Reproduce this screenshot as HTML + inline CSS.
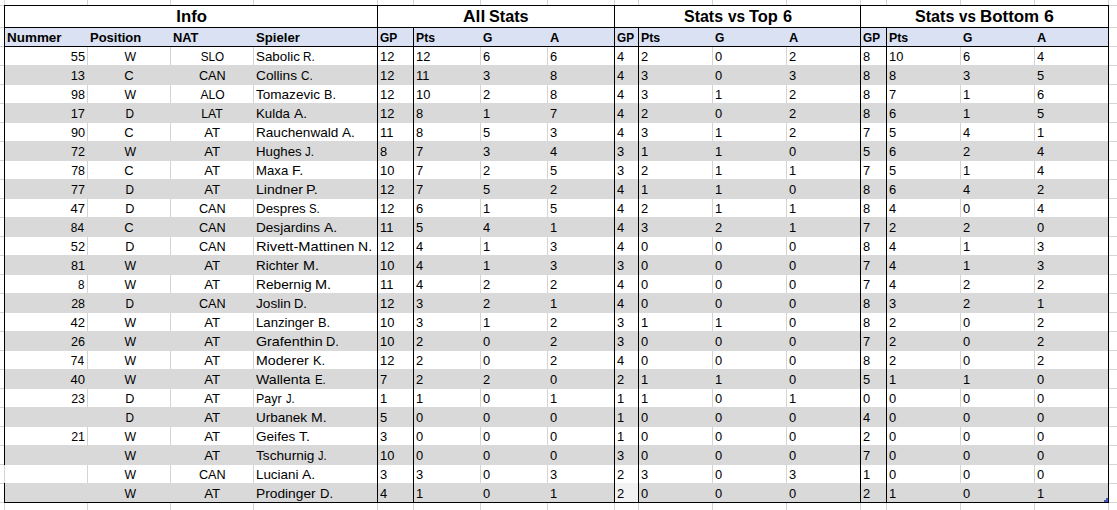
<!DOCTYPE html><html><head><meta charset="utf-8"><title>Stats</title><style>
html,body{margin:0;padding:0;background:#fff;}
body{width:1117px;height:510px;position:relative;overflow:hidden;font-family:"Liberation Sans",sans-serif;color:#000;}
.l{position:absolute;background:#000;}
.g{position:absolute;background:#d4d4d4;}
.r{position:absolute;left:5px;width:1103px;height:20px;background:#d9d9d9;}
.t{position:absolute;white-space:nowrap;height:19px;line-height:19px;font-size:13.5px;}
.h{position:absolute;white-space:nowrap;height:19px;line-height:19px;font-size:13.5px;font-weight:bold;}
.T{position:absolute;white-space:nowrap;height:22px;line-height:22px;font-size:16px;font-weight:bold;text-align:center;}
.t span,.h span,.T span{display:inline-block;}
</style></head><body>
<div class="g" style="left:4px;top:0;width:1px;height:5px"></div>
<div class="g" style="left:4px;top:503px;width:1px;height:7px"></div>
<div class="g" style="left:87px;top:0;width:1px;height:5px"></div>
<div class="g" style="left:87px;top:503px;width:1px;height:7px"></div>
<div class="g" style="left:170px;top:0;width:1px;height:5px"></div>
<div class="g" style="left:170px;top:503px;width:1px;height:7px"></div>
<div class="g" style="left:253px;top:0;width:1px;height:5px"></div>
<div class="g" style="left:253px;top:503px;width:1px;height:7px"></div>
<div class="g" style="left:377px;top:0;width:1px;height:5px"></div>
<div class="g" style="left:377px;top:503px;width:1px;height:7px"></div>
<div class="g" style="left:413px;top:0;width:1px;height:5px"></div>
<div class="g" style="left:413px;top:503px;width:1px;height:7px"></div>
<div class="g" style="left:480px;top:0;width:1px;height:5px"></div>
<div class="g" style="left:480px;top:503px;width:1px;height:7px"></div>
<div class="g" style="left:547px;top:0;width:1px;height:5px"></div>
<div class="g" style="left:547px;top:503px;width:1px;height:7px"></div>
<div class="g" style="left:614px;top:0;width:1px;height:5px"></div>
<div class="g" style="left:614px;top:503px;width:1px;height:7px"></div>
<div class="g" style="left:638px;top:0;width:1px;height:5px"></div>
<div class="g" style="left:638px;top:503px;width:1px;height:7px"></div>
<div class="g" style="left:712px;top:0;width:1px;height:5px"></div>
<div class="g" style="left:712px;top:503px;width:1px;height:7px"></div>
<div class="g" style="left:786px;top:0;width:1px;height:5px"></div>
<div class="g" style="left:786px;top:503px;width:1px;height:7px"></div>
<div class="g" style="left:860px;top:0;width:1px;height:5px"></div>
<div class="g" style="left:860px;top:503px;width:1px;height:7px"></div>
<div class="g" style="left:886px;top:0;width:1px;height:5px"></div>
<div class="g" style="left:886px;top:503px;width:1px;height:7px"></div>
<div class="g" style="left:960px;top:0;width:1px;height:5px"></div>
<div class="g" style="left:960px;top:503px;width:1px;height:7px"></div>
<div class="g" style="left:1034px;top:0;width:1px;height:5px"></div>
<div class="g" style="left:1034px;top:503px;width:1px;height:7px"></div>
<div class="g" style="left:1108px;top:0;width:1px;height:5px"></div>
<div class="g" style="left:1108px;top:503px;width:1px;height:7px"></div>
<div class="g" style="left:0;top:5px;width:4px;height:1px"></div>
<div class="g" style="left:1109px;top:5px;width:8px;height:1px"></div>
<div class="g" style="left:0;top:27px;width:4px;height:1px"></div>
<div class="g" style="left:1109px;top:27px;width:8px;height:1px"></div>
<div class="g" style="left:0;top:46px;width:4px;height:1px"></div>
<div class="g" style="left:1109px;top:46px;width:8px;height:1px"></div>
<div class="g" style="left:0;top:65px;width:4px;height:1px"></div>
<div class="g" style="left:1109px;top:65px;width:8px;height:1px"></div>
<div class="g" style="left:0;top:84px;width:4px;height:1px"></div>
<div class="g" style="left:1109px;top:84px;width:8px;height:1px"></div>
<div class="g" style="left:0;top:103px;width:4px;height:1px"></div>
<div class="g" style="left:1109px;top:103px;width:8px;height:1px"></div>
<div class="g" style="left:0;top:122px;width:4px;height:1px"></div>
<div class="g" style="left:1109px;top:122px;width:8px;height:1px"></div>
<div class="g" style="left:0;top:141px;width:4px;height:1px"></div>
<div class="g" style="left:1109px;top:141px;width:8px;height:1px"></div>
<div class="g" style="left:0;top:160px;width:4px;height:1px"></div>
<div class="g" style="left:1109px;top:160px;width:8px;height:1px"></div>
<div class="g" style="left:0;top:179px;width:4px;height:1px"></div>
<div class="g" style="left:1109px;top:179px;width:8px;height:1px"></div>
<div class="g" style="left:0;top:198px;width:4px;height:1px"></div>
<div class="g" style="left:1109px;top:198px;width:8px;height:1px"></div>
<div class="g" style="left:0;top:217px;width:4px;height:1px"></div>
<div class="g" style="left:1109px;top:217px;width:8px;height:1px"></div>
<div class="g" style="left:0;top:236px;width:4px;height:1px"></div>
<div class="g" style="left:1109px;top:236px;width:8px;height:1px"></div>
<div class="g" style="left:0;top:255px;width:4px;height:1px"></div>
<div class="g" style="left:1109px;top:255px;width:8px;height:1px"></div>
<div class="g" style="left:0;top:274px;width:4px;height:1px"></div>
<div class="g" style="left:1109px;top:274px;width:8px;height:1px"></div>
<div class="g" style="left:0;top:293px;width:4px;height:1px"></div>
<div class="g" style="left:1109px;top:293px;width:8px;height:1px"></div>
<div class="g" style="left:0;top:312px;width:4px;height:1px"></div>
<div class="g" style="left:1109px;top:312px;width:8px;height:1px"></div>
<div class="g" style="left:0;top:331px;width:4px;height:1px"></div>
<div class="g" style="left:1109px;top:331px;width:8px;height:1px"></div>
<div class="g" style="left:0;top:350px;width:4px;height:1px"></div>
<div class="g" style="left:1109px;top:350px;width:8px;height:1px"></div>
<div class="g" style="left:0;top:369px;width:4px;height:1px"></div>
<div class="g" style="left:1109px;top:369px;width:8px;height:1px"></div>
<div class="g" style="left:0;top:388px;width:4px;height:1px"></div>
<div class="g" style="left:1109px;top:388px;width:8px;height:1px"></div>
<div class="g" style="left:0;top:407px;width:4px;height:1px"></div>
<div class="g" style="left:1109px;top:407px;width:8px;height:1px"></div>
<div class="g" style="left:0;top:426px;width:4px;height:1px"></div>
<div class="g" style="left:1109px;top:426px;width:8px;height:1px"></div>
<div class="g" style="left:0;top:445px;width:4px;height:1px"></div>
<div class="g" style="left:1109px;top:445px;width:8px;height:1px"></div>
<div class="g" style="left:0;top:464px;width:4px;height:1px"></div>
<div class="g" style="left:1109px;top:464px;width:8px;height:1px"></div>
<div class="g" style="left:0;top:483px;width:4px;height:1px"></div>
<div class="g" style="left:1109px;top:483px;width:8px;height:1px"></div>
<div class="g" style="left:0;top:502px;width:4px;height:1px"></div>
<div class="g" style="left:1109px;top:502px;width:8px;height:1px"></div>
<div style="position:absolute;left:5px;top:28px;width:1103px;height:18px;background:#d9e1f2"></div>
<div class="g" style="left:87px;top:47px;width:1px;height:18px"></div>
<div class="g" style="left:170px;top:47px;width:1px;height:18px"></div>
<div class="g" style="left:253px;top:47px;width:1px;height:18px"></div>
<div class="g" style="left:480px;top:47px;width:1px;height:18px"></div>
<div class="g" style="left:547px;top:47px;width:1px;height:18px"></div>
<div class="g" style="left:712px;top:47px;width:1px;height:18px"></div>
<div class="g" style="left:786px;top:47px;width:1px;height:18px"></div>
<div class="g" style="left:960px;top:47px;width:1px;height:18px"></div>
<div class="g" style="left:1034px;top:47px;width:1px;height:18px"></div>
<div class="r" style="top:65px"></div>
<div class="g" style="left:87px;top:85px;width:1px;height:18px"></div>
<div class="g" style="left:170px;top:85px;width:1px;height:18px"></div>
<div class="g" style="left:253px;top:85px;width:1px;height:18px"></div>
<div class="g" style="left:480px;top:85px;width:1px;height:18px"></div>
<div class="g" style="left:547px;top:85px;width:1px;height:18px"></div>
<div class="g" style="left:712px;top:85px;width:1px;height:18px"></div>
<div class="g" style="left:786px;top:85px;width:1px;height:18px"></div>
<div class="g" style="left:960px;top:85px;width:1px;height:18px"></div>
<div class="g" style="left:1034px;top:85px;width:1px;height:18px"></div>
<div class="r" style="top:103px"></div>
<div class="g" style="left:87px;top:123px;width:1px;height:18px"></div>
<div class="g" style="left:170px;top:123px;width:1px;height:18px"></div>
<div class="g" style="left:253px;top:123px;width:1px;height:18px"></div>
<div class="g" style="left:480px;top:123px;width:1px;height:18px"></div>
<div class="g" style="left:547px;top:123px;width:1px;height:18px"></div>
<div class="g" style="left:712px;top:123px;width:1px;height:18px"></div>
<div class="g" style="left:786px;top:123px;width:1px;height:18px"></div>
<div class="g" style="left:960px;top:123px;width:1px;height:18px"></div>
<div class="g" style="left:1034px;top:123px;width:1px;height:18px"></div>
<div class="r" style="top:141px"></div>
<div class="g" style="left:87px;top:161px;width:1px;height:18px"></div>
<div class="g" style="left:170px;top:161px;width:1px;height:18px"></div>
<div class="g" style="left:253px;top:161px;width:1px;height:18px"></div>
<div class="g" style="left:480px;top:161px;width:1px;height:18px"></div>
<div class="g" style="left:547px;top:161px;width:1px;height:18px"></div>
<div class="g" style="left:712px;top:161px;width:1px;height:18px"></div>
<div class="g" style="left:786px;top:161px;width:1px;height:18px"></div>
<div class="g" style="left:960px;top:161px;width:1px;height:18px"></div>
<div class="g" style="left:1034px;top:161px;width:1px;height:18px"></div>
<div class="r" style="top:179px"></div>
<div class="g" style="left:87px;top:199px;width:1px;height:18px"></div>
<div class="g" style="left:170px;top:199px;width:1px;height:18px"></div>
<div class="g" style="left:253px;top:199px;width:1px;height:18px"></div>
<div class="g" style="left:480px;top:199px;width:1px;height:18px"></div>
<div class="g" style="left:547px;top:199px;width:1px;height:18px"></div>
<div class="g" style="left:712px;top:199px;width:1px;height:18px"></div>
<div class="g" style="left:786px;top:199px;width:1px;height:18px"></div>
<div class="g" style="left:960px;top:199px;width:1px;height:18px"></div>
<div class="g" style="left:1034px;top:199px;width:1px;height:18px"></div>
<div class="r" style="top:217px"></div>
<div class="g" style="left:87px;top:237px;width:1px;height:18px"></div>
<div class="g" style="left:170px;top:237px;width:1px;height:18px"></div>
<div class="g" style="left:253px;top:237px;width:1px;height:18px"></div>
<div class="g" style="left:480px;top:237px;width:1px;height:18px"></div>
<div class="g" style="left:547px;top:237px;width:1px;height:18px"></div>
<div class="g" style="left:712px;top:237px;width:1px;height:18px"></div>
<div class="g" style="left:786px;top:237px;width:1px;height:18px"></div>
<div class="g" style="left:960px;top:237px;width:1px;height:18px"></div>
<div class="g" style="left:1034px;top:237px;width:1px;height:18px"></div>
<div class="r" style="top:255px"></div>
<div class="g" style="left:87px;top:275px;width:1px;height:18px"></div>
<div class="g" style="left:170px;top:275px;width:1px;height:18px"></div>
<div class="g" style="left:253px;top:275px;width:1px;height:18px"></div>
<div class="g" style="left:480px;top:275px;width:1px;height:18px"></div>
<div class="g" style="left:547px;top:275px;width:1px;height:18px"></div>
<div class="g" style="left:712px;top:275px;width:1px;height:18px"></div>
<div class="g" style="left:786px;top:275px;width:1px;height:18px"></div>
<div class="g" style="left:960px;top:275px;width:1px;height:18px"></div>
<div class="g" style="left:1034px;top:275px;width:1px;height:18px"></div>
<div class="r" style="top:293px"></div>
<div class="g" style="left:87px;top:313px;width:1px;height:18px"></div>
<div class="g" style="left:170px;top:313px;width:1px;height:18px"></div>
<div class="g" style="left:253px;top:313px;width:1px;height:18px"></div>
<div class="g" style="left:480px;top:313px;width:1px;height:18px"></div>
<div class="g" style="left:547px;top:313px;width:1px;height:18px"></div>
<div class="g" style="left:712px;top:313px;width:1px;height:18px"></div>
<div class="g" style="left:786px;top:313px;width:1px;height:18px"></div>
<div class="g" style="left:960px;top:313px;width:1px;height:18px"></div>
<div class="g" style="left:1034px;top:313px;width:1px;height:18px"></div>
<div class="r" style="top:331px"></div>
<div class="g" style="left:87px;top:351px;width:1px;height:18px"></div>
<div class="g" style="left:170px;top:351px;width:1px;height:18px"></div>
<div class="g" style="left:253px;top:351px;width:1px;height:18px"></div>
<div class="g" style="left:480px;top:351px;width:1px;height:18px"></div>
<div class="g" style="left:547px;top:351px;width:1px;height:18px"></div>
<div class="g" style="left:712px;top:351px;width:1px;height:18px"></div>
<div class="g" style="left:786px;top:351px;width:1px;height:18px"></div>
<div class="g" style="left:960px;top:351px;width:1px;height:18px"></div>
<div class="g" style="left:1034px;top:351px;width:1px;height:18px"></div>
<div class="r" style="top:369px"></div>
<div class="g" style="left:87px;top:389px;width:1px;height:18px"></div>
<div class="g" style="left:170px;top:389px;width:1px;height:18px"></div>
<div class="g" style="left:253px;top:389px;width:1px;height:18px"></div>
<div class="g" style="left:480px;top:389px;width:1px;height:18px"></div>
<div class="g" style="left:547px;top:389px;width:1px;height:18px"></div>
<div class="g" style="left:712px;top:389px;width:1px;height:18px"></div>
<div class="g" style="left:786px;top:389px;width:1px;height:18px"></div>
<div class="g" style="left:960px;top:389px;width:1px;height:18px"></div>
<div class="g" style="left:1034px;top:389px;width:1px;height:18px"></div>
<div class="r" style="top:407px"></div>
<div class="g" style="left:87px;top:427px;width:1px;height:18px"></div>
<div class="g" style="left:170px;top:427px;width:1px;height:18px"></div>
<div class="g" style="left:253px;top:427px;width:1px;height:18px"></div>
<div class="g" style="left:480px;top:427px;width:1px;height:18px"></div>
<div class="g" style="left:547px;top:427px;width:1px;height:18px"></div>
<div class="g" style="left:712px;top:427px;width:1px;height:18px"></div>
<div class="g" style="left:786px;top:427px;width:1px;height:18px"></div>
<div class="g" style="left:960px;top:427px;width:1px;height:18px"></div>
<div class="g" style="left:1034px;top:427px;width:1px;height:18px"></div>
<div class="r" style="top:445px"></div>
<div class="g" style="left:87px;top:465px;width:1px;height:18px"></div>
<div class="g" style="left:170px;top:465px;width:1px;height:18px"></div>
<div class="g" style="left:253px;top:465px;width:1px;height:18px"></div>
<div class="g" style="left:480px;top:465px;width:1px;height:18px"></div>
<div class="g" style="left:547px;top:465px;width:1px;height:18px"></div>
<div class="g" style="left:712px;top:465px;width:1px;height:18px"></div>
<div class="g" style="left:786px;top:465px;width:1px;height:18px"></div>
<div class="g" style="left:960px;top:465px;width:1px;height:18px"></div>
<div class="g" style="left:1034px;top:465px;width:1px;height:18px"></div>
<div class="r" style="top:483px"></div>
<div style="position:absolute;left:615px;top:483px;width:23px;height:19px;background:#f2f2f2"></div>
<div class="l" style="left:4px;top:5px;width:1105px;height:1px"></div>
<div class="l" style="left:4px;top:27px;width:1105px;height:1px"></div>
<div class="l" style="left:4px;top:46px;width:1105px;height:1px"></div>
<div class="l" style="left:4px;top:502px;width:1105px;height:1px"></div>
<div class="l" style="left:4px;top:5px;width:1px;height:498px"></div>
<div class="l" style="left:377px;top:5px;width:1px;height:498px"></div>
<div class="l" style="left:614px;top:5px;width:1px;height:498px"></div>
<div class="l" style="left:860px;top:5px;width:1px;height:498px"></div>
<div class="l" style="left:1108px;top:5px;width:1px;height:498px"></div>
<div class="l" style="left:413px;top:27px;width:1px;height:476px"></div>
<div class="l" style="left:638px;top:27px;width:1px;height:476px"></div>
<div class="l" style="left:886px;top:27px;width:1px;height:476px"></div>
<div style="position:absolute;left:4px;top:465px;width:1px;height:18px;background:#fff"></div>
<div class="g" style="left:4px;top:465px;width:1px;height:18px"></div>
<div style="position:absolute;left:1106px;top:498px;width:2px;height:2px;background:#3f57b7"></div>
<div style="position:absolute;left:1104px;top:500px;width:4px;height:2px;background:#3f57b7"></div>
<div class="T" style="left:91.18px;width:200px;text-align:center;top:6px"><span style="transform:scaleX(1.0427);transform-origin:50% 50%">Info</span></div>
<div class="T" style="left:462.64px;top:6px"><span style="transform:scaleX(1.0878);transform-origin:0 50%">All</span></div>
<div class="T" style="left:488.94px;top:6px"><span style="transform:scaleX(1.0116);transform-origin:0 50%">Stats</span></div>
<div class="T" style="left:684.07px;top:6px"><span style="transform:scaleX(0.9980);transform-origin:0 50%">Stats</span></div>
<div class="T" style="left:728.31px;top:6px"><span style="transform:scaleX(0.9623);transform-origin:0 50%">vs</span></div>
<div class="T" style="left:749.36px;top:6px"><span style="transform:scaleX(1.0278);transform-origin:0 50%">Top</span></div>
<div class="T" style="left:782.76px;top:6px"><span style="transform:scaleX(1.0171);transform-origin:0 50%">6</span></div>
<div class="T" style="left:914.92px;top:6px"><span style="transform:scaleX(1.0055);transform-origin:0 50%">Stats</span></div>
<div class="T" style="left:959.22px;top:6px"><span style="transform:scaleX(0.9473);transform-origin:0 50%">vs</span></div>
<div class="T" style="left:980.46px;top:6px"><span style="transform:scaleX(1.0564);transform-origin:0 50%">Bottom</span></div>
<div class="T" style="left:1043.53px;top:6px"><span style="transform:scaleX(1.1059);transform-origin:0 50%">6</span></div>
<div class="h" style="left:7.30px;top:28px"><span style="transform:scaleX(0.9967);transform-origin:0 50%">Nummer</span></div>
<div class="h" style="left:90.23px;top:28px"><span style="transform:scaleX(0.9607);transform-origin:0 50%">Position</span></div>
<div class="h" style="left:173.46px;top:28px"><span style="transform:scaleX(0.9518);transform-origin:0 50%">NAT</span></div>
<div class="h" style="left:255.75px;top:28px"><span style="transform:scaleX(0.9740);transform-origin:0 50%">Spieler</span></div>
<div class="h" style="left:380.32px;top:28px"><span style="transform:scaleX(0.8856);transform-origin:0 50%">GP</span></div>
<div class="h" style="left:416.07px;top:28px"><span style="transform:scaleX(0.9031);transform-origin:0 50%">Pts</span></div>
<div class="h" style="left:482.54px;top:28px"><span style="transform:scaleX(0.8898);transform-origin:0 50%">G</span></div>
<div class="h" style="left:549.66px;top:28px"><span style="transform:scaleX(0.9516);transform-origin:0 50%">A</span></div>
<div class="h" style="left:616.91px;top:28px"><span style="transform:scaleX(0.8725);transform-origin:0 50%">GP</span></div>
<div class="h" style="left:640.67px;top:28px"><span style="transform:scaleX(0.9148);transform-origin:0 50%">Pts</span></div>
<div class="h" style="left:715.44px;top:28px"><span style="transform:scaleX(0.8898);transform-origin:0 50%">G</span></div>
<div class="h" style="left:788.66px;top:28px"><span style="transform:scaleX(0.9516);transform-origin:0 50%">A</span></div>
<div class="h" style="left:862.91px;top:28px"><span style="transform:scaleX(0.8725);transform-origin:0 50%">GP</span></div>
<div class="h" style="left:888.67px;top:28px"><span style="transform:scaleX(0.9148);transform-origin:0 50%">Pts</span></div>
<div class="h" style="left:963.44px;top:28px"><span style="transform:scaleX(0.8898);transform-origin:0 50%">G</span></div>
<div class="h" style="left:1036.66px;top:28px"><span style="transform:scaleX(0.9516);transform-origin:0 50%">A</span></div>
<div class="t" style="right:1032.35px;top:47px"><span style="transform:scaleX(0.9491);transform-origin:100% 50%">55</span></div>
<div class="t" style="left:29.98px;width:200px;text-align:center;top:47px"><span style="transform:scaleX(0.9083);transform-origin:50% 50%">W</span></div>
<div class="t" style="left:112.46px;width:200px;text-align:center;top:47px"><span style="transform:scaleX(0.8669);transform-origin:50% 50%">SLO</span></div>
<div class="t" style="left:255.93px;top:47px"><span style="transform:scaleX(0.9899);transform-origin:0 50%">Sabolic</span></div>
<div class="t" style="left:302.55px;top:47px"><span style="transform:scaleX(0.8668);transform-origin:0 50%">R.</span></div>
<div class="t" style="left:379.90px;top:47px"><span style="transform:scaleX(0.9550);transform-origin:0 50%">12</span></div>
<div class="t" style="left:415.90px;top:47px"><span style="transform:scaleX(0.9550);transform-origin:0 50%">12</span></div>
<div class="t" style="left:482.90px;top:47px"><span style="transform:scaleX(0.9550);transform-origin:0 50%">6</span></div>
<div class="t" style="left:549.90px;top:47px"><span style="transform:scaleX(0.9550);transform-origin:0 50%">6</span></div>
<div class="t" style="left:616.90px;top:47px"><span style="transform:scaleX(0.9550);transform-origin:0 50%">4</span></div>
<div class="t" style="left:640.90px;top:47px"><span style="transform:scaleX(0.9550);transform-origin:0 50%">2</span></div>
<div class="t" style="left:714.90px;top:47px"><span style="transform:scaleX(0.9550);transform-origin:0 50%">0</span></div>
<div class="t" style="left:788.90px;top:47px"><span style="transform:scaleX(0.9550);transform-origin:0 50%">2</span></div>
<div class="t" style="left:862.90px;top:47px"><span style="transform:scaleX(0.9550);transform-origin:0 50%">8</span></div>
<div class="t" style="left:888.90px;top:47px"><span style="transform:scaleX(0.9550);transform-origin:0 50%">10</span></div>
<div class="t" style="left:962.90px;top:47px"><span style="transform:scaleX(0.9550);transform-origin:0 50%">6</span></div>
<div class="t" style="left:1036.90px;top:47px"><span style="transform:scaleX(0.9550);transform-origin:0 50%">4</span></div>
<div class="t" style="right:1032.24px;top:66px"><span style="transform:scaleX(0.9517);transform-origin:100% 50%">13</span></div>
<div class="t" style="left:29.17px;width:200px;text-align:center;top:66px"><span style="transform:scaleX(0.9644);transform-origin:50% 50%">C</span></div>
<div class="t" style="left:112.05px;width:200px;text-align:center;top:66px"><span style="transform:scaleX(0.9369);transform-origin:50% 50%">CAN</span></div>
<div class="t" style="left:255.88px;top:66px"><span style="transform:scaleX(1.0129);transform-origin:0 50%">Collins</span></div>
<div class="t" style="left:300.67px;top:66px"><span style="transform:scaleX(0.8660);transform-origin:0 50%">C.</span></div>
<div class="t" style="left:379.90px;top:66px"><span style="transform:scaleX(0.9550);transform-origin:0 50%">12</span></div>
<div class="t" style="left:415.90px;top:66px"><span style="transform:scaleX(0.9550);transform-origin:0 50%">11</span></div>
<div class="t" style="left:482.90px;top:66px"><span style="transform:scaleX(0.9550);transform-origin:0 50%">3</span></div>
<div class="t" style="left:549.90px;top:66px"><span style="transform:scaleX(0.9550);transform-origin:0 50%">8</span></div>
<div class="t" style="left:616.90px;top:66px"><span style="transform:scaleX(0.9550);transform-origin:0 50%">4</span></div>
<div class="t" style="left:640.90px;top:66px"><span style="transform:scaleX(0.9550);transform-origin:0 50%">3</span></div>
<div class="t" style="left:714.90px;top:66px"><span style="transform:scaleX(0.9550);transform-origin:0 50%">0</span></div>
<div class="t" style="left:788.90px;top:66px"><span style="transform:scaleX(0.9550);transform-origin:0 50%">3</span></div>
<div class="t" style="left:862.90px;top:66px"><span style="transform:scaleX(0.9550);transform-origin:0 50%">8</span></div>
<div class="t" style="left:888.90px;top:66px"><span style="transform:scaleX(0.9550);transform-origin:0 50%">8</span></div>
<div class="t" style="left:962.90px;top:66px"><span style="transform:scaleX(0.9550);transform-origin:0 50%">3</span></div>
<div class="t" style="left:1036.90px;top:66px"><span style="transform:scaleX(0.9550);transform-origin:0 50%">5</span></div>
<div class="t" style="right:1032.33px;top:85px"><span style="transform:scaleX(0.9315);transform-origin:100% 50%">98</span></div>
<div class="t" style="left:29.98px;width:200px;text-align:center;top:85px"><span style="transform:scaleX(0.9083);transform-origin:50% 50%">W</span></div>
<div class="t" style="left:112.22px;width:200px;text-align:center;top:85px"><span style="transform:scaleX(0.8936);transform-origin:50% 50%">ALO</span></div>
<div class="t" style="left:256.28px;top:85px"><span style="transform:scaleX(1.0033);transform-origin:0 50%">Tomazevic</span></div>
<div class="t" style="left:323.51px;top:85px"><span style="transform:scaleX(0.9347);transform-origin:0 50%">B.</span></div>
<div class="t" style="left:379.90px;top:85px"><span style="transform:scaleX(0.9550);transform-origin:0 50%">12</span></div>
<div class="t" style="left:415.90px;top:85px"><span style="transform:scaleX(0.9550);transform-origin:0 50%">10</span></div>
<div class="t" style="left:482.90px;top:85px"><span style="transform:scaleX(0.9550);transform-origin:0 50%">2</span></div>
<div class="t" style="left:549.90px;top:85px"><span style="transform:scaleX(0.9550);transform-origin:0 50%">8</span></div>
<div class="t" style="left:616.90px;top:85px"><span style="transform:scaleX(0.9550);transform-origin:0 50%">4</span></div>
<div class="t" style="left:640.90px;top:85px"><span style="transform:scaleX(0.9550);transform-origin:0 50%">3</span></div>
<div class="t" style="left:714.90px;top:85px"><span style="transform:scaleX(0.9550);transform-origin:0 50%">1</span></div>
<div class="t" style="left:788.90px;top:85px"><span style="transform:scaleX(0.9550);transform-origin:0 50%">2</span></div>
<div class="t" style="left:862.90px;top:85px"><span style="transform:scaleX(0.9550);transform-origin:0 50%">8</span></div>
<div class="t" style="left:888.90px;top:85px"><span style="transform:scaleX(0.9550);transform-origin:0 50%">7</span></div>
<div class="t" style="left:962.90px;top:85px"><span style="transform:scaleX(0.9550);transform-origin:0 50%">1</span></div>
<div class="t" style="left:1036.90px;top:85px"><span style="transform:scaleX(0.9550);transform-origin:0 50%">6</span></div>
<div class="t" style="right:1032.23px;top:104px"><span style="transform:scaleX(0.9540);transform-origin:100% 50%">17</span></div>
<div class="t" style="left:29.59px;width:200px;text-align:center;top:104px"><span style="transform:scaleX(0.8741);transform-origin:50% 50%">D</span></div>
<div class="t" style="left:111.78px;width:200px;text-align:center;top:104px"><span style="transform:scaleX(0.9051);transform-origin:50% 50%">LAT</span></div>
<div class="t" style="left:255.93px;top:104px"><span style="transform:scaleX(0.9824);transform-origin:0 50%">Kulda</span></div>
<div class="t" style="left:294.23px;top:104px"><span style="transform:scaleX(1.0152);transform-origin:0 50%">A.</span></div>
<div class="t" style="left:379.90px;top:104px"><span style="transform:scaleX(0.9550);transform-origin:0 50%">12</span></div>
<div class="t" style="left:415.90px;top:104px"><span style="transform:scaleX(0.9550);transform-origin:0 50%">8</span></div>
<div class="t" style="left:482.90px;top:104px"><span style="transform:scaleX(0.9550);transform-origin:0 50%">1</span></div>
<div class="t" style="left:549.90px;top:104px"><span style="transform:scaleX(0.9550);transform-origin:0 50%">7</span></div>
<div class="t" style="left:616.90px;top:104px"><span style="transform:scaleX(0.9550);transform-origin:0 50%">4</span></div>
<div class="t" style="left:640.90px;top:104px"><span style="transform:scaleX(0.9550);transform-origin:0 50%">2</span></div>
<div class="t" style="left:714.90px;top:104px"><span style="transform:scaleX(0.9550);transform-origin:0 50%">0</span></div>
<div class="t" style="left:788.90px;top:104px"><span style="transform:scaleX(0.9550);transform-origin:0 50%">2</span></div>
<div class="t" style="left:862.90px;top:104px"><span style="transform:scaleX(0.9550);transform-origin:0 50%">8</span></div>
<div class="t" style="left:888.90px;top:104px"><span style="transform:scaleX(0.9550);transform-origin:0 50%">6</span></div>
<div class="t" style="left:962.90px;top:104px"><span style="transform:scaleX(0.9550);transform-origin:0 50%">1</span></div>
<div class="t" style="left:1036.90px;top:104px"><span style="transform:scaleX(0.9550);transform-origin:0 50%">5</span></div>
<div class="t" style="right:1032.32px;top:123px"><span style="transform:scaleX(0.9408);transform-origin:100% 50%">90</span></div>
<div class="t" style="left:29.17px;width:200px;text-align:center;top:123px"><span style="transform:scaleX(0.9632);transform-origin:50% 50%">C</span></div>
<div class="t" style="left:112.48px;width:200px;text-align:center;top:123px"><span style="transform:scaleX(0.9803);transform-origin:50% 50%">AT</span></div>
<div class="t" style="left:256.33px;top:123px"><span style="transform:scaleX(1.0065);transform-origin:0 50%">Rauchenwald</span></div>
<div class="t" style="left:342.37px;top:123px"><span style="transform:scaleX(1.0002);transform-origin:0 50%">A.</span></div>
<div class="t" style="left:379.90px;top:123px"><span style="transform:scaleX(0.9550);transform-origin:0 50%">11</span></div>
<div class="t" style="left:415.90px;top:123px"><span style="transform:scaleX(0.9550);transform-origin:0 50%">8</span></div>
<div class="t" style="left:482.90px;top:123px"><span style="transform:scaleX(0.9550);transform-origin:0 50%">5</span></div>
<div class="t" style="left:549.90px;top:123px"><span style="transform:scaleX(0.9550);transform-origin:0 50%">3</span></div>
<div class="t" style="left:616.90px;top:123px"><span style="transform:scaleX(0.9550);transform-origin:0 50%">4</span></div>
<div class="t" style="left:640.90px;top:123px"><span style="transform:scaleX(0.9550);transform-origin:0 50%">3</span></div>
<div class="t" style="left:714.90px;top:123px"><span style="transform:scaleX(0.9550);transform-origin:0 50%">1</span></div>
<div class="t" style="left:788.90px;top:123px"><span style="transform:scaleX(0.9550);transform-origin:0 50%">2</span></div>
<div class="t" style="left:862.90px;top:123px"><span style="transform:scaleX(0.9550);transform-origin:0 50%">7</span></div>
<div class="t" style="left:888.90px;top:123px"><span style="transform:scaleX(0.9550);transform-origin:0 50%">5</span></div>
<div class="t" style="left:962.90px;top:123px"><span style="transform:scaleX(0.9550);transform-origin:0 50%">4</span></div>
<div class="t" style="left:1036.90px;top:123px"><span style="transform:scaleX(0.9550);transform-origin:0 50%">1</span></div>
<div class="t" style="right:1032.39px;top:142px"><span style="transform:scaleX(0.9291);transform-origin:100% 50%">72</span></div>
<div class="t" style="left:29.99px;width:200px;text-align:center;top:142px"><span style="transform:scaleX(0.9069);transform-origin:50% 50%">W</span></div>
<div class="t" style="left:112.50px;width:200px;text-align:center;top:142px"><span style="transform:scaleX(0.9814);transform-origin:50% 50%">AT</span></div>
<div class="t" style="left:255.71px;top:142px"><span style="transform:scaleX(0.9812);transform-origin:0 50%">Hughes</span></div>
<div class="t" style="left:305.05px;top:142px"><span style="transform:scaleX(0.8492);transform-origin:0 50%">J.</span></div>
<div class="t" style="left:379.90px;top:142px"><span style="transform:scaleX(0.9550);transform-origin:0 50%">8</span></div>
<div class="t" style="left:415.90px;top:142px"><span style="transform:scaleX(0.9550);transform-origin:0 50%">7</span></div>
<div class="t" style="left:482.90px;top:142px"><span style="transform:scaleX(0.9550);transform-origin:0 50%">3</span></div>
<div class="t" style="left:549.90px;top:142px"><span style="transform:scaleX(0.9550);transform-origin:0 50%">4</span></div>
<div class="t" style="left:616.90px;top:142px"><span style="transform:scaleX(0.9550);transform-origin:0 50%">3</span></div>
<div class="t" style="left:640.90px;top:142px"><span style="transform:scaleX(0.9550);transform-origin:0 50%">1</span></div>
<div class="t" style="left:714.90px;top:142px"><span style="transform:scaleX(0.9550);transform-origin:0 50%">1</span></div>
<div class="t" style="left:788.90px;top:142px"><span style="transform:scaleX(0.9550);transform-origin:0 50%">0</span></div>
<div class="t" style="left:862.90px;top:142px"><span style="transform:scaleX(0.9550);transform-origin:0 50%">5</span></div>
<div class="t" style="left:888.90px;top:142px"><span style="transform:scaleX(0.9550);transform-origin:0 50%">6</span></div>
<div class="t" style="left:962.90px;top:142px"><span style="transform:scaleX(0.9550);transform-origin:0 50%">2</span></div>
<div class="t" style="left:1036.90px;top:142px"><span style="transform:scaleX(0.9550);transform-origin:0 50%">4</span></div>
<div class="t" style="right:1032.33px;top:161px"><span style="transform:scaleX(0.9198);transform-origin:100% 50%">78</span></div>
<div class="t" style="left:29.17px;width:200px;text-align:center;top:161px"><span style="transform:scaleX(0.9632);transform-origin:50% 50%">C</span></div>
<div class="t" style="left:112.48px;width:200px;text-align:center;top:161px"><span style="transform:scaleX(0.9803);transform-origin:50% 50%">AT</span></div>
<div class="t" style="left:256.26px;top:161px"><span style="transform:scaleX(0.9756);transform-origin:0 50%">Maxa</span></div>
<div class="t" style="left:292.10px;top:161px"><span style="transform:scaleX(1.0588);transform-origin:0 50%">F.</span></div>
<div class="t" style="left:379.90px;top:161px"><span style="transform:scaleX(0.9550);transform-origin:0 50%">10</span></div>
<div class="t" style="left:415.90px;top:161px"><span style="transform:scaleX(0.9550);transform-origin:0 50%">7</span></div>
<div class="t" style="left:482.90px;top:161px"><span style="transform:scaleX(0.9550);transform-origin:0 50%">2</span></div>
<div class="t" style="left:549.90px;top:161px"><span style="transform:scaleX(0.9550);transform-origin:0 50%">5</span></div>
<div class="t" style="left:616.90px;top:161px"><span style="transform:scaleX(0.9550);transform-origin:0 50%">3</span></div>
<div class="t" style="left:640.90px;top:161px"><span style="transform:scaleX(0.9550);transform-origin:0 50%">2</span></div>
<div class="t" style="left:714.90px;top:161px"><span style="transform:scaleX(0.9550);transform-origin:0 50%">1</span></div>
<div class="t" style="left:788.90px;top:161px"><span style="transform:scaleX(0.9550);transform-origin:0 50%">1</span></div>
<div class="t" style="left:862.90px;top:161px"><span style="transform:scaleX(0.9550);transform-origin:0 50%">7</span></div>
<div class="t" style="left:888.90px;top:161px"><span style="transform:scaleX(0.9550);transform-origin:0 50%">5</span></div>
<div class="t" style="left:962.90px;top:161px"><span style="transform:scaleX(0.9550);transform-origin:0 50%">1</span></div>
<div class="t" style="left:1036.90px;top:161px"><span style="transform:scaleX(0.9550);transform-origin:0 50%">4</span></div>
<div class="t" style="right:1032.39px;top:180px"><span style="transform:scaleX(0.9291);transform-origin:100% 50%">77</span></div>
<div class="t" style="left:29.59px;width:200px;text-align:center;top:180px"><span style="transform:scaleX(0.8741);transform-origin:50% 50%">D</span></div>
<div class="t" style="left:112.50px;width:200px;text-align:center;top:180px"><span style="transform:scaleX(0.9814);transform-origin:50% 50%">AT</span></div>
<div class="t" style="left:256.16px;top:180px"><span style="transform:scaleX(1.0410);transform-origin:0 50%">Lindner</span></div>
<div class="t" style="left:305.73px;top:180px"><span style="transform:scaleX(1.0685);transform-origin:0 50%">P.</span></div>
<div class="t" style="left:379.90px;top:180px"><span style="transform:scaleX(0.9550);transform-origin:0 50%">12</span></div>
<div class="t" style="left:415.90px;top:180px"><span style="transform:scaleX(0.9550);transform-origin:0 50%">7</span></div>
<div class="t" style="left:482.90px;top:180px"><span style="transform:scaleX(0.9550);transform-origin:0 50%">5</span></div>
<div class="t" style="left:549.90px;top:180px"><span style="transform:scaleX(0.9550);transform-origin:0 50%">2</span></div>
<div class="t" style="left:616.90px;top:180px"><span style="transform:scaleX(0.9550);transform-origin:0 50%">4</span></div>
<div class="t" style="left:640.90px;top:180px"><span style="transform:scaleX(0.9550);transform-origin:0 50%">1</span></div>
<div class="t" style="left:714.90px;top:180px"><span style="transform:scaleX(0.9550);transform-origin:0 50%">1</span></div>
<div class="t" style="left:788.90px;top:180px"><span style="transform:scaleX(0.9550);transform-origin:0 50%">0</span></div>
<div class="t" style="left:862.90px;top:180px"><span style="transform:scaleX(0.9550);transform-origin:0 50%">8</span></div>
<div class="t" style="left:888.90px;top:180px"><span style="transform:scaleX(0.9550);transform-origin:0 50%">6</span></div>
<div class="t" style="left:962.90px;top:180px"><span style="transform:scaleX(0.9550);transform-origin:0 50%">4</span></div>
<div class="t" style="left:1036.90px;top:180px"><span style="transform:scaleX(0.9550);transform-origin:0 50%">2</span></div>
<div class="t" style="right:1032.21px;top:199px"><span style="transform:scaleX(0.9668);transform-origin:100% 50%">47</span></div>
<div class="t" style="left:29.38px;width:200px;text-align:center;top:199px"><span style="transform:scaleX(0.9388);transform-origin:50% 50%">D</span></div>
<div class="t" style="left:112.05px;width:200px;text-align:center;top:199px"><span style="transform:scaleX(0.9386);transform-origin:50% 50%">CAN</span></div>
<div class="t" style="left:256.22px;top:199px"><span style="transform:scaleX(0.9896);transform-origin:0 50%">Despres</span></div>
<div class="t" style="left:309.18px;top:199px"><span style="transform:scaleX(0.8396);transform-origin:0 50%">S.</span></div>
<div class="t" style="left:379.90px;top:199px"><span style="transform:scaleX(0.9550);transform-origin:0 50%">12</span></div>
<div class="t" style="left:415.90px;top:199px"><span style="transform:scaleX(0.9550);transform-origin:0 50%">6</span></div>
<div class="t" style="left:482.90px;top:199px"><span style="transform:scaleX(0.9550);transform-origin:0 50%">1</span></div>
<div class="t" style="left:549.90px;top:199px"><span style="transform:scaleX(0.9550);transform-origin:0 50%">5</span></div>
<div class="t" style="left:616.90px;top:199px"><span style="transform:scaleX(0.9550);transform-origin:0 50%">4</span></div>
<div class="t" style="left:640.90px;top:199px"><span style="transform:scaleX(0.9550);transform-origin:0 50%">2</span></div>
<div class="t" style="left:714.90px;top:199px"><span style="transform:scaleX(0.9550);transform-origin:0 50%">1</span></div>
<div class="t" style="left:788.90px;top:199px"><span style="transform:scaleX(0.9550);transform-origin:0 50%">1</span></div>
<div class="t" style="left:862.90px;top:199px"><span style="transform:scaleX(0.9550);transform-origin:0 50%">8</span></div>
<div class="t" style="left:888.90px;top:199px"><span style="transform:scaleX(0.9550);transform-origin:0 50%">4</span></div>
<div class="t" style="left:962.90px;top:199px"><span style="transform:scaleX(0.9550);transform-origin:0 50%">0</span></div>
<div class="t" style="left:1036.90px;top:199px"><span style="transform:scaleX(0.9550);transform-origin:0 50%">4</span></div>
<div class="t" style="right:1032.89px;top:218px"><span style="transform:scaleX(0.8790);transform-origin:100% 50%">84</span></div>
<div class="t" style="left:29.17px;width:200px;text-align:center;top:218px"><span style="transform:scaleX(0.9644);transform-origin:50% 50%">C</span></div>
<div class="t" style="left:112.05px;width:200px;text-align:center;top:218px"><span style="transform:scaleX(0.9369);transform-origin:50% 50%">CAN</span></div>
<div class="t" style="left:255.84px;top:218px"><span style="transform:scaleX(1.0055);transform-origin:0 50%">Desjardins</span></div>
<div class="t" style="left:324.33px;top:218px"><span style="transform:scaleX(1.0202);transform-origin:0 50%">A.</span></div>
<div class="t" style="left:379.90px;top:218px"><span style="transform:scaleX(0.9550);transform-origin:0 50%">11</span></div>
<div class="t" style="left:415.90px;top:218px"><span style="transform:scaleX(0.9550);transform-origin:0 50%">5</span></div>
<div class="t" style="left:482.90px;top:218px"><span style="transform:scaleX(0.9550);transform-origin:0 50%">4</span></div>
<div class="t" style="left:549.90px;top:218px"><span style="transform:scaleX(0.9550);transform-origin:0 50%">1</span></div>
<div class="t" style="left:616.90px;top:218px"><span style="transform:scaleX(0.9550);transform-origin:0 50%">4</span></div>
<div class="t" style="left:640.90px;top:218px"><span style="transform:scaleX(0.9550);transform-origin:0 50%">3</span></div>
<div class="t" style="left:714.90px;top:218px"><span style="transform:scaleX(0.9550);transform-origin:0 50%">2</span></div>
<div class="t" style="left:788.90px;top:218px"><span style="transform:scaleX(0.9550);transform-origin:0 50%">1</span></div>
<div class="t" style="left:862.90px;top:218px"><span style="transform:scaleX(0.9550);transform-origin:0 50%">7</span></div>
<div class="t" style="left:888.90px;top:218px"><span style="transform:scaleX(0.9550);transform-origin:0 50%">2</span></div>
<div class="t" style="left:962.90px;top:218px"><span style="transform:scaleX(0.9550);transform-origin:0 50%">2</span></div>
<div class="t" style="left:1036.90px;top:218px"><span style="transform:scaleX(0.9550);transform-origin:0 50%">0</span></div>
<div class="t" style="right:1032.35px;top:237px"><span style="transform:scaleX(0.9489);transform-origin:100% 50%">52</span></div>
<div class="t" style="left:29.38px;width:200px;text-align:center;top:237px"><span style="transform:scaleX(0.9388);transform-origin:50% 50%">D</span></div>
<div class="t" style="left:112.05px;width:200px;text-align:center;top:237px"><span style="transform:scaleX(0.9386);transform-origin:50% 50%">CAN</span></div>
<div class="t" style="left:256.02px;top:237px"><span style="transform:scaleX(1.0849);transform-origin:0 50%">Rivett-Mattinen</span></div>
<div class="t" style="left:357.78px;top:237px"><span style="transform:scaleX(1.0393);transform-origin:0 50%">N.</span></div>
<div class="t" style="left:379.90px;top:237px"><span style="transform:scaleX(0.9550);transform-origin:0 50%">12</span></div>
<div class="t" style="left:415.90px;top:237px"><span style="transform:scaleX(0.9550);transform-origin:0 50%">4</span></div>
<div class="t" style="left:482.90px;top:237px"><span style="transform:scaleX(0.9550);transform-origin:0 50%">1</span></div>
<div class="t" style="left:549.90px;top:237px"><span style="transform:scaleX(0.9550);transform-origin:0 50%">3</span></div>
<div class="t" style="left:616.90px;top:237px"><span style="transform:scaleX(0.9550);transform-origin:0 50%">4</span></div>
<div class="t" style="left:640.90px;top:237px"><span style="transform:scaleX(0.9550);transform-origin:0 50%">0</span></div>
<div class="t" style="left:714.90px;top:237px"><span style="transform:scaleX(0.9550);transform-origin:0 50%">0</span></div>
<div class="t" style="left:788.90px;top:237px"><span style="transform:scaleX(0.9550);transform-origin:0 50%">0</span></div>
<div class="t" style="left:862.90px;top:237px"><span style="transform:scaleX(0.9550);transform-origin:0 50%">8</span></div>
<div class="t" style="left:888.90px;top:237px"><span style="transform:scaleX(0.9550);transform-origin:0 50%">4</span></div>
<div class="t" style="left:962.90px;top:237px"><span style="transform:scaleX(0.9550);transform-origin:0 50%">1</span></div>
<div class="t" style="left:1036.90px;top:237px"><span style="transform:scaleX(0.9550);transform-origin:0 50%">3</span></div>
<div class="t" style="right:1032.33px;top:256px"><span style="transform:scaleX(0.9379);transform-origin:100% 50%">81</span></div>
<div class="t" style="left:29.99px;width:200px;text-align:center;top:256px"><span style="transform:scaleX(0.9069);transform-origin:50% 50%">W</span></div>
<div class="t" style="left:112.50px;width:200px;text-align:center;top:256px"><span style="transform:scaleX(0.9814);transform-origin:50% 50%">AT</span></div>
<div class="t" style="left:256.36px;top:256px"><span style="transform:scaleX(0.9956);transform-origin:0 50%">Richter</span></div>
<div class="t" style="left:302.68px;top:256px"><span style="transform:scaleX(1.0596);transform-origin:0 50%">M.</span></div>
<div class="t" style="left:379.90px;top:256px"><span style="transform:scaleX(0.9550);transform-origin:0 50%">10</span></div>
<div class="t" style="left:415.90px;top:256px"><span style="transform:scaleX(0.9550);transform-origin:0 50%">4</span></div>
<div class="t" style="left:482.90px;top:256px"><span style="transform:scaleX(0.9550);transform-origin:0 50%">1</span></div>
<div class="t" style="left:549.90px;top:256px"><span style="transform:scaleX(0.9550);transform-origin:0 50%">3</span></div>
<div class="t" style="left:616.90px;top:256px"><span style="transform:scaleX(0.9550);transform-origin:0 50%">3</span></div>
<div class="t" style="left:640.90px;top:256px"><span style="transform:scaleX(0.9550);transform-origin:0 50%">0</span></div>
<div class="t" style="left:714.90px;top:256px"><span style="transform:scaleX(0.9550);transform-origin:0 50%">0</span></div>
<div class="t" style="left:788.90px;top:256px"><span style="transform:scaleX(0.9550);transform-origin:0 50%">0</span></div>
<div class="t" style="left:862.90px;top:256px"><span style="transform:scaleX(0.9550);transform-origin:0 50%">7</span></div>
<div class="t" style="left:888.90px;top:256px"><span style="transform:scaleX(0.9550);transform-origin:0 50%">4</span></div>
<div class="t" style="left:962.90px;top:256px"><span style="transform:scaleX(0.9550);transform-origin:0 50%">1</span></div>
<div class="t" style="left:1036.90px;top:256px"><span style="transform:scaleX(0.9550);transform-origin:0 50%">3</span></div>
<div class="t" style="right:1032.59px;top:275px"><span style="transform:scaleX(0.8654);transform-origin:100% 50%">8</span></div>
<div class="t" style="left:29.98px;width:200px;text-align:center;top:275px"><span style="transform:scaleX(0.9083);transform-origin:50% 50%">W</span></div>
<div class="t" style="left:112.48px;width:200px;text-align:center;top:275px"><span style="transform:scaleX(0.9803);transform-origin:50% 50%">AT</span></div>
<div class="t" style="left:256.24px;top:275px"><span style="transform:scaleX(1.0161);transform-origin:0 50%">Rebernig</span></div>
<div class="t" style="left:314.80px;top:275px"><span style="transform:scaleX(1.0739);transform-origin:0 50%">M.</span></div>
<div class="t" style="left:379.90px;top:275px"><span style="transform:scaleX(0.9550);transform-origin:0 50%">11</span></div>
<div class="t" style="left:415.90px;top:275px"><span style="transform:scaleX(0.9550);transform-origin:0 50%">4</span></div>
<div class="t" style="left:482.90px;top:275px"><span style="transform:scaleX(0.9550);transform-origin:0 50%">2</span></div>
<div class="t" style="left:549.90px;top:275px"><span style="transform:scaleX(0.9550);transform-origin:0 50%">2</span></div>
<div class="t" style="left:616.90px;top:275px"><span style="transform:scaleX(0.9550);transform-origin:0 50%">4</span></div>
<div class="t" style="left:640.90px;top:275px"><span style="transform:scaleX(0.9550);transform-origin:0 50%">0</span></div>
<div class="t" style="left:714.90px;top:275px"><span style="transform:scaleX(0.9550);transform-origin:0 50%">0</span></div>
<div class="t" style="left:788.90px;top:275px"><span style="transform:scaleX(0.9550);transform-origin:0 50%">0</span></div>
<div class="t" style="left:862.90px;top:275px"><span style="transform:scaleX(0.9550);transform-origin:0 50%">7</span></div>
<div class="t" style="left:888.90px;top:275px"><span style="transform:scaleX(0.9550);transform-origin:0 50%">4</span></div>
<div class="t" style="left:962.90px;top:275px"><span style="transform:scaleX(0.9550);transform-origin:0 50%">2</span></div>
<div class="t" style="left:1036.90px;top:275px"><span style="transform:scaleX(0.9550);transform-origin:0 50%">2</span></div>
<div class="t" style="right:1032.32px;top:294px"><span style="transform:scaleX(0.9195);transform-origin:100% 50%">28</span></div>
<div class="t" style="left:29.59px;width:200px;text-align:center;top:294px"><span style="transform:scaleX(0.8741);transform-origin:50% 50%">D</span></div>
<div class="t" style="left:112.05px;width:200px;text-align:center;top:294px"><span style="transform:scaleX(0.9369);transform-origin:50% 50%">CAN</span></div>
<div class="t" style="left:255.50px;top:294px"><span style="transform:scaleX(1.0094);transform-origin:0 50%">Joslin</span></div>
<div class="t" style="left:293.75px;top:294px"><span style="transform:scaleX(0.9585);transform-origin:0 50%">D.</span></div>
<div class="t" style="left:379.90px;top:294px"><span style="transform:scaleX(0.9550);transform-origin:0 50%">12</span></div>
<div class="t" style="left:415.90px;top:294px"><span style="transform:scaleX(0.9550);transform-origin:0 50%">3</span></div>
<div class="t" style="left:482.90px;top:294px"><span style="transform:scaleX(0.9550);transform-origin:0 50%">2</span></div>
<div class="t" style="left:549.90px;top:294px"><span style="transform:scaleX(0.9550);transform-origin:0 50%">1</span></div>
<div class="t" style="left:616.90px;top:294px"><span style="transform:scaleX(0.9550);transform-origin:0 50%">4</span></div>
<div class="t" style="left:640.90px;top:294px"><span style="transform:scaleX(0.9550);transform-origin:0 50%">0</span></div>
<div class="t" style="left:714.90px;top:294px"><span style="transform:scaleX(0.9550);transform-origin:0 50%">0</span></div>
<div class="t" style="left:788.90px;top:294px"><span style="transform:scaleX(0.9550);transform-origin:0 50%">0</span></div>
<div class="t" style="left:862.90px;top:294px"><span style="transform:scaleX(0.9550);transform-origin:0 50%">8</span></div>
<div class="t" style="left:888.90px;top:294px"><span style="transform:scaleX(0.9550);transform-origin:0 50%">3</span></div>
<div class="t" style="left:962.90px;top:294px"><span style="transform:scaleX(0.9550);transform-origin:0 50%">2</span></div>
<div class="t" style="left:1036.90px;top:294px"><span style="transform:scaleX(0.9550);transform-origin:0 50%">1</span></div>
<div class="t" style="right:1032.21px;top:313px"><span style="transform:scaleX(0.9668);transform-origin:100% 50%">42</span></div>
<div class="t" style="left:29.98px;width:200px;text-align:center;top:313px"><span style="transform:scaleX(0.9083);transform-origin:50% 50%">W</span></div>
<div class="t" style="left:112.48px;width:200px;text-align:center;top:313px"><span style="transform:scaleX(0.9803);transform-origin:50% 50%">AT</span></div>
<div class="t" style="left:255.94px;top:313px"><span style="transform:scaleX(0.9745);transform-origin:0 50%">Lanzinger</span></div>
<div class="t" style="left:317.67px;top:313px"><span style="transform:scaleX(0.9526);transform-origin:0 50%">B.</span></div>
<div class="t" style="left:379.90px;top:313px"><span style="transform:scaleX(0.9550);transform-origin:0 50%">10</span></div>
<div class="t" style="left:415.90px;top:313px"><span style="transform:scaleX(0.9550);transform-origin:0 50%">3</span></div>
<div class="t" style="left:482.90px;top:313px"><span style="transform:scaleX(0.9550);transform-origin:0 50%">1</span></div>
<div class="t" style="left:549.90px;top:313px"><span style="transform:scaleX(0.9550);transform-origin:0 50%">2</span></div>
<div class="t" style="left:616.90px;top:313px"><span style="transform:scaleX(0.9550);transform-origin:0 50%">3</span></div>
<div class="t" style="left:640.90px;top:313px"><span style="transform:scaleX(0.9550);transform-origin:0 50%">1</span></div>
<div class="t" style="left:714.90px;top:313px"><span style="transform:scaleX(0.9550);transform-origin:0 50%">1</span></div>
<div class="t" style="left:788.90px;top:313px"><span style="transform:scaleX(0.9550);transform-origin:0 50%">0</span></div>
<div class="t" style="left:862.90px;top:313px"><span style="transform:scaleX(0.9550);transform-origin:0 50%">8</span></div>
<div class="t" style="left:888.90px;top:313px"><span style="transform:scaleX(0.9550);transform-origin:0 50%">2</span></div>
<div class="t" style="left:962.90px;top:313px"><span style="transform:scaleX(0.9550);transform-origin:0 50%">0</span></div>
<div class="t" style="left:1036.90px;top:313px"><span style="transform:scaleX(0.9550);transform-origin:0 50%">2</span></div>
<div class="t" style="right:1032.28px;top:332px"><span style="transform:scaleX(0.9313);transform-origin:100% 50%">26</span></div>
<div class="t" style="left:29.99px;width:200px;text-align:center;top:332px"><span style="transform:scaleX(0.9069);transform-origin:50% 50%">W</span></div>
<div class="t" style="left:112.50px;width:200px;text-align:center;top:332px"><span style="transform:scaleX(0.9814);transform-origin:50% 50%">AT</span></div>
<div class="t" style="left:255.59px;top:332px"><span style="transform:scaleX(1.0580);transform-origin:0 50%">Grafenthin</span></div>
<div class="t" style="left:325.59px;top:332px"><span style="transform:scaleX(0.9480);transform-origin:0 50%">D.</span></div>
<div class="t" style="left:379.90px;top:332px"><span style="transform:scaleX(0.9550);transform-origin:0 50%">10</span></div>
<div class="t" style="left:415.90px;top:332px"><span style="transform:scaleX(0.9550);transform-origin:0 50%">2</span></div>
<div class="t" style="left:482.90px;top:332px"><span style="transform:scaleX(0.9550);transform-origin:0 50%">0</span></div>
<div class="t" style="left:549.90px;top:332px"><span style="transform:scaleX(0.9550);transform-origin:0 50%">2</span></div>
<div class="t" style="left:616.90px;top:332px"><span style="transform:scaleX(0.9550);transform-origin:0 50%">3</span></div>
<div class="t" style="left:640.90px;top:332px"><span style="transform:scaleX(0.9550);transform-origin:0 50%">0</span></div>
<div class="t" style="left:714.90px;top:332px"><span style="transform:scaleX(0.9550);transform-origin:0 50%">0</span></div>
<div class="t" style="left:788.90px;top:332px"><span style="transform:scaleX(0.9550);transform-origin:0 50%">0</span></div>
<div class="t" style="left:862.90px;top:332px"><span style="transform:scaleX(0.9550);transform-origin:0 50%">7</span></div>
<div class="t" style="left:888.90px;top:332px"><span style="transform:scaleX(0.9550);transform-origin:0 50%">2</span></div>
<div class="t" style="left:962.90px;top:332px"><span style="transform:scaleX(0.9550);transform-origin:0 50%">0</span></div>
<div class="t" style="left:1036.90px;top:332px"><span style="transform:scaleX(0.9550);transform-origin:0 50%">2</span></div>
<div class="t" style="right:1032.97px;top:351px"><span style="transform:scaleX(0.8834);transform-origin:100% 50%">74</span></div>
<div class="t" style="left:29.98px;width:200px;text-align:center;top:351px"><span style="transform:scaleX(0.9083);transform-origin:50% 50%">W</span></div>
<div class="t" style="left:112.48px;width:200px;text-align:center;top:351px"><span style="transform:scaleX(0.9803);transform-origin:50% 50%">AT</span></div>
<div class="t" style="left:255.82px;top:351px"><span style="transform:scaleX(1.0491);transform-origin:0 50%">Moderer</span></div>
<div class="t" style="left:312.77px;top:351px"><span style="transform:scaleX(0.9364);transform-origin:0 50%">K.</span></div>
<div class="t" style="left:379.90px;top:351px"><span style="transform:scaleX(0.9550);transform-origin:0 50%">12</span></div>
<div class="t" style="left:415.90px;top:351px"><span style="transform:scaleX(0.9550);transform-origin:0 50%">2</span></div>
<div class="t" style="left:482.90px;top:351px"><span style="transform:scaleX(0.9550);transform-origin:0 50%">0</span></div>
<div class="t" style="left:549.90px;top:351px"><span style="transform:scaleX(0.9550);transform-origin:0 50%">2</span></div>
<div class="t" style="left:616.90px;top:351px"><span style="transform:scaleX(0.9550);transform-origin:0 50%">4</span></div>
<div class="t" style="left:640.90px;top:351px"><span style="transform:scaleX(0.9550);transform-origin:0 50%">0</span></div>
<div class="t" style="left:714.90px;top:351px"><span style="transform:scaleX(0.9550);transform-origin:0 50%">0</span></div>
<div class="t" style="left:788.90px;top:351px"><span style="transform:scaleX(0.9550);transform-origin:0 50%">0</span></div>
<div class="t" style="left:862.90px;top:351px"><span style="transform:scaleX(0.9550);transform-origin:0 50%">8</span></div>
<div class="t" style="left:888.90px;top:351px"><span style="transform:scaleX(0.9550);transform-origin:0 50%">2</span></div>
<div class="t" style="left:962.90px;top:351px"><span style="transform:scaleX(0.9550);transform-origin:0 50%">0</span></div>
<div class="t" style="left:1036.90px;top:351px"><span style="transform:scaleX(0.9550);transform-origin:0 50%">2</span></div>
<div class="t" style="right:1032.35px;top:370px"><span style="transform:scaleX(0.9689);transform-origin:100% 50%">40</span></div>
<div class="t" style="left:29.99px;width:200px;text-align:center;top:370px"><span style="transform:scaleX(0.9069);transform-origin:50% 50%">W</span></div>
<div class="t" style="left:112.50px;width:200px;text-align:center;top:370px"><span style="transform:scaleX(0.9814);transform-origin:50% 50%">AT</span></div>
<div class="t" style="left:256.47px;top:370px"><span style="transform:scaleX(1.0460);transform-origin:0 50%">Wallenta</span></div>
<div class="t" style="left:314.81px;top:370px"><span style="transform:scaleX(0.8463);transform-origin:0 50%">E.</span></div>
<div class="t" style="left:379.90px;top:370px"><span style="transform:scaleX(0.9550);transform-origin:0 50%">7</span></div>
<div class="t" style="left:415.90px;top:370px"><span style="transform:scaleX(0.9550);transform-origin:0 50%">2</span></div>
<div class="t" style="left:482.90px;top:370px"><span style="transform:scaleX(0.9550);transform-origin:0 50%">2</span></div>
<div class="t" style="left:549.90px;top:370px"><span style="transform:scaleX(0.9550);transform-origin:0 50%">0</span></div>
<div class="t" style="left:616.90px;top:370px"><span style="transform:scaleX(0.9550);transform-origin:0 50%">2</span></div>
<div class="t" style="left:640.90px;top:370px"><span style="transform:scaleX(0.9550);transform-origin:0 50%">1</span></div>
<div class="t" style="left:714.90px;top:370px"><span style="transform:scaleX(0.9550);transform-origin:0 50%">1</span></div>
<div class="t" style="left:788.90px;top:370px"><span style="transform:scaleX(0.9550);transform-origin:0 50%">0</span></div>
<div class="t" style="left:862.90px;top:370px"><span style="transform:scaleX(0.9550);transform-origin:0 50%">5</span></div>
<div class="t" style="left:888.90px;top:370px"><span style="transform:scaleX(0.9550);transform-origin:0 50%">1</span></div>
<div class="t" style="left:962.90px;top:370px"><span style="transform:scaleX(0.9550);transform-origin:0 50%">1</span></div>
<div class="t" style="left:1036.90px;top:370px"><span style="transform:scaleX(0.9550);transform-origin:0 50%">0</span></div>
<div class="t" style="right:1032.33px;top:389px"><span style="transform:scaleX(0.9198);transform-origin:100% 50%">23</span></div>
<div class="t" style="left:29.38px;width:200px;text-align:center;top:389px"><span style="transform:scaleX(0.9388);transform-origin:50% 50%">D</span></div>
<div class="t" style="left:112.48px;width:200px;text-align:center;top:389px"><span style="transform:scaleX(0.9803);transform-origin:50% 50%">AT</span></div>
<div class="t" style="left:255.96px;top:389px"><span style="transform:scaleX(0.9192);transform-origin:0 50%">Payr</span></div>
<div class="t" style="left:285.63px;top:389px"><span style="transform:scaleX(0.8197);transform-origin:0 50%">J.</span></div>
<div class="t" style="left:379.90px;top:389px"><span style="transform:scaleX(0.9550);transform-origin:0 50%">1</span></div>
<div class="t" style="left:415.90px;top:389px"><span style="transform:scaleX(0.9550);transform-origin:0 50%">1</span></div>
<div class="t" style="left:482.90px;top:389px"><span style="transform:scaleX(0.9550);transform-origin:0 50%">0</span></div>
<div class="t" style="left:549.90px;top:389px"><span style="transform:scaleX(0.9550);transform-origin:0 50%">1</span></div>
<div class="t" style="left:616.90px;top:389px"><span style="transform:scaleX(0.9550);transform-origin:0 50%">1</span></div>
<div class="t" style="left:640.90px;top:389px"><span style="transform:scaleX(0.9550);transform-origin:0 50%">1</span></div>
<div class="t" style="left:714.90px;top:389px"><span style="transform:scaleX(0.9550);transform-origin:0 50%">0</span></div>
<div class="t" style="left:788.90px;top:389px"><span style="transform:scaleX(0.9550);transform-origin:0 50%">1</span></div>
<div class="t" style="left:862.90px;top:389px"><span style="transform:scaleX(0.9550);transform-origin:0 50%">0</span></div>
<div class="t" style="left:888.90px;top:389px"><span style="transform:scaleX(0.9550);transform-origin:0 50%">0</span></div>
<div class="t" style="left:962.90px;top:389px"><span style="transform:scaleX(0.9550);transform-origin:0 50%">0</span></div>
<div class="t" style="left:1036.90px;top:389px"><span style="transform:scaleX(0.9550);transform-origin:0 50%">0</span></div>
<div class="t" style="left:29.59px;width:200px;text-align:center;top:408px"><span style="transform:scaleX(0.8741);transform-origin:50% 50%">D</span></div>
<div class="t" style="left:112.50px;width:200px;text-align:center;top:408px"><span style="transform:scaleX(0.9814);transform-origin:50% 50%">AT</span></div>
<div class="t" style="left:256.36px;top:408px"><span style="transform:scaleX(1.0016);transform-origin:0 50%">Urbanek</span></div>
<div class="t" style="left:310.53px;top:408px"><span style="transform:scaleX(1.0387);transform-origin:0 50%">M.</span></div>
<div class="t" style="left:379.90px;top:408px"><span style="transform:scaleX(0.9550);transform-origin:0 50%">5</span></div>
<div class="t" style="left:415.90px;top:408px"><span style="transform:scaleX(0.9550);transform-origin:0 50%">0</span></div>
<div class="t" style="left:482.90px;top:408px"><span style="transform:scaleX(0.9550);transform-origin:0 50%">0</span></div>
<div class="t" style="left:549.90px;top:408px"><span style="transform:scaleX(0.9550);transform-origin:0 50%">0</span></div>
<div class="t" style="left:616.90px;top:408px"><span style="transform:scaleX(0.9550);transform-origin:0 50%">1</span></div>
<div class="t" style="left:640.90px;top:408px"><span style="transform:scaleX(0.9550);transform-origin:0 50%">0</span></div>
<div class="t" style="left:714.90px;top:408px"><span style="transform:scaleX(0.9550);transform-origin:0 50%">0</span></div>
<div class="t" style="left:788.90px;top:408px"><span style="transform:scaleX(0.9550);transform-origin:0 50%">0</span></div>
<div class="t" style="left:862.90px;top:408px"><span style="transform:scaleX(0.9550);transform-origin:0 50%">4</span></div>
<div class="t" style="left:888.90px;top:408px"><span style="transform:scaleX(0.9550);transform-origin:0 50%">0</span></div>
<div class="t" style="left:962.90px;top:408px"><span style="transform:scaleX(0.9550);transform-origin:0 50%">0</span></div>
<div class="t" style="left:1036.90px;top:408px"><span style="transform:scaleX(0.9550);transform-origin:0 50%">0</span></div>
<div class="t" style="right:1032.35px;top:427px"><span style="transform:scaleX(0.9196);transform-origin:100% 50%">21</span></div>
<div class="t" style="left:29.98px;width:200px;text-align:center;top:427px"><span style="transform:scaleX(0.9083);transform-origin:50% 50%">W</span></div>
<div class="t" style="left:112.48px;width:200px;text-align:center;top:427px"><span style="transform:scaleX(0.9803);transform-origin:50% 50%">AT</span></div>
<div class="t" style="left:255.87px;top:427px"><span style="transform:scaleX(1.0063);transform-origin:0 50%">Geifes</span></div>
<div class="t" style="left:298.51px;top:427px"><span style="transform:scaleX(1.0328);transform-origin:0 50%">T.</span></div>
<div class="t" style="left:379.90px;top:427px"><span style="transform:scaleX(0.9550);transform-origin:0 50%">3</span></div>
<div class="t" style="left:415.90px;top:427px"><span style="transform:scaleX(0.9550);transform-origin:0 50%">0</span></div>
<div class="t" style="left:482.90px;top:427px"><span style="transform:scaleX(0.9550);transform-origin:0 50%">0</span></div>
<div class="t" style="left:549.90px;top:427px"><span style="transform:scaleX(0.9550);transform-origin:0 50%">0</span></div>
<div class="t" style="left:616.90px;top:427px"><span style="transform:scaleX(0.9550);transform-origin:0 50%">1</span></div>
<div class="t" style="left:640.90px;top:427px"><span style="transform:scaleX(0.9550);transform-origin:0 50%">0</span></div>
<div class="t" style="left:714.90px;top:427px"><span style="transform:scaleX(0.9550);transform-origin:0 50%">0</span></div>
<div class="t" style="left:788.90px;top:427px"><span style="transform:scaleX(0.9550);transform-origin:0 50%">0</span></div>
<div class="t" style="left:862.90px;top:427px"><span style="transform:scaleX(0.9550);transform-origin:0 50%">2</span></div>
<div class="t" style="left:888.90px;top:427px"><span style="transform:scaleX(0.9550);transform-origin:0 50%">0</span></div>
<div class="t" style="left:962.90px;top:427px"><span style="transform:scaleX(0.9550);transform-origin:0 50%">0</span></div>
<div class="t" style="left:1036.90px;top:427px"><span style="transform:scaleX(0.9550);transform-origin:0 50%">0</span></div>
<div class="t" style="left:29.99px;width:200px;text-align:center;top:446px"><span style="transform:scaleX(0.9069);transform-origin:50% 50%">W</span></div>
<div class="t" style="left:112.50px;width:200px;text-align:center;top:446px"><span style="transform:scaleX(0.9814);transform-origin:50% 50%">AT</span></div>
<div class="t" style="left:256.46px;top:446px"><span style="transform:scaleX(1.0110);transform-origin:0 50%">Tschurnig</span></div>
<div class="t" style="left:317.93px;top:446px"><span style="transform:scaleX(0.8132);transform-origin:0 50%">J.</span></div>
<div class="t" style="left:379.90px;top:446px"><span style="transform:scaleX(0.9550);transform-origin:0 50%">10</span></div>
<div class="t" style="left:415.90px;top:446px"><span style="transform:scaleX(0.9550);transform-origin:0 50%">0</span></div>
<div class="t" style="left:482.90px;top:446px"><span style="transform:scaleX(0.9550);transform-origin:0 50%">0</span></div>
<div class="t" style="left:549.90px;top:446px"><span style="transform:scaleX(0.9550);transform-origin:0 50%">0</span></div>
<div class="t" style="left:616.90px;top:446px"><span style="transform:scaleX(0.9550);transform-origin:0 50%">3</span></div>
<div class="t" style="left:640.90px;top:446px"><span style="transform:scaleX(0.9550);transform-origin:0 50%">0</span></div>
<div class="t" style="left:714.90px;top:446px"><span style="transform:scaleX(0.9550);transform-origin:0 50%">0</span></div>
<div class="t" style="left:788.90px;top:446px"><span style="transform:scaleX(0.9550);transform-origin:0 50%">0</span></div>
<div class="t" style="left:862.90px;top:446px"><span style="transform:scaleX(0.9550);transform-origin:0 50%">7</span></div>
<div class="t" style="left:888.90px;top:446px"><span style="transform:scaleX(0.9550);transform-origin:0 50%">0</span></div>
<div class="t" style="left:962.90px;top:446px"><span style="transform:scaleX(0.9550);transform-origin:0 50%">0</span></div>
<div class="t" style="left:1036.90px;top:446px"><span style="transform:scaleX(0.9550);transform-origin:0 50%">0</span></div>
<div class="t" style="left:29.98px;width:200px;text-align:center;top:465px"><span style="transform:scaleX(0.9083);transform-origin:50% 50%">W</span></div>
<div class="t" style="left:112.05px;width:200px;text-align:center;top:465px"><span style="transform:scaleX(0.9386);transform-origin:50% 50%">CAN</span></div>
<div class="t" style="left:255.91px;top:465px"><span style="transform:scaleX(0.9903);transform-origin:0 50%">Luciani</span></div>
<div class="t" style="left:302.37px;top:465px"><span style="transform:scaleX(1.0198);transform-origin:0 50%">A.</span></div>
<div class="t" style="left:379.90px;top:465px"><span style="transform:scaleX(0.9550);transform-origin:0 50%">3</span></div>
<div class="t" style="left:415.90px;top:465px"><span style="transform:scaleX(0.9550);transform-origin:0 50%">3</span></div>
<div class="t" style="left:482.90px;top:465px"><span style="transform:scaleX(0.9550);transform-origin:0 50%">0</span></div>
<div class="t" style="left:549.90px;top:465px"><span style="transform:scaleX(0.9550);transform-origin:0 50%">3</span></div>
<div class="t" style="left:616.90px;top:465px"><span style="transform:scaleX(0.9550);transform-origin:0 50%">2</span></div>
<div class="t" style="left:640.90px;top:465px"><span style="transform:scaleX(0.9550);transform-origin:0 50%">3</span></div>
<div class="t" style="left:714.90px;top:465px"><span style="transform:scaleX(0.9550);transform-origin:0 50%">0</span></div>
<div class="t" style="left:788.90px;top:465px"><span style="transform:scaleX(0.9550);transform-origin:0 50%">3</span></div>
<div class="t" style="left:862.90px;top:465px"><span style="transform:scaleX(0.9550);transform-origin:0 50%">1</span></div>
<div class="t" style="left:888.90px;top:465px"><span style="transform:scaleX(0.9550);transform-origin:0 50%">0</span></div>
<div class="t" style="left:962.90px;top:465px"><span style="transform:scaleX(0.9550);transform-origin:0 50%">0</span></div>
<div class="t" style="left:1036.90px;top:465px"><span style="transform:scaleX(0.9550);transform-origin:0 50%">0</span></div>
<div class="t" style="left:29.99px;width:200px;text-align:center;top:484px"><span style="transform:scaleX(0.9069);transform-origin:50% 50%">W</span></div>
<div class="t" style="left:112.50px;width:200px;text-align:center;top:484px"><span style="transform:scaleX(0.9814);transform-origin:50% 50%">AT</span></div>
<div class="t" style="left:256.32px;top:484px"><span style="transform:scaleX(1.0187);transform-origin:0 50%">Prodinger</span></div>
<div class="t" style="left:319.50px;top:484px"><span style="transform:scaleX(0.9680);transform-origin:0 50%">D.</span></div>
<div class="t" style="left:379.90px;top:484px"><span style="transform:scaleX(0.9550);transform-origin:0 50%">4</span></div>
<div class="t" style="left:415.90px;top:484px"><span style="transform:scaleX(0.9550);transform-origin:0 50%">1</span></div>
<div class="t" style="left:482.90px;top:484px"><span style="transform:scaleX(0.9550);transform-origin:0 50%">0</span></div>
<div class="t" style="left:549.90px;top:484px"><span style="transform:scaleX(0.9550);transform-origin:0 50%">1</span></div>
<div class="t" style="left:616.90px;top:484px"><span style="transform:scaleX(0.9550);transform-origin:0 50%">2</span></div>
<div class="t" style="left:640.90px;top:484px"><span style="transform:scaleX(0.9550);transform-origin:0 50%">0</span></div>
<div class="t" style="left:714.90px;top:484px"><span style="transform:scaleX(0.9550);transform-origin:0 50%">0</span></div>
<div class="t" style="left:788.90px;top:484px"><span style="transform:scaleX(0.9550);transform-origin:0 50%">0</span></div>
<div class="t" style="left:862.90px;top:484px"><span style="transform:scaleX(0.9550);transform-origin:0 50%">2</span></div>
<div class="t" style="left:888.90px;top:484px"><span style="transform:scaleX(0.9550);transform-origin:0 50%">1</span></div>
<div class="t" style="left:962.90px;top:484px"><span style="transform:scaleX(0.9550);transform-origin:0 50%">0</span></div>
<div class="t" style="left:1036.90px;top:484px"><span style="transform:scaleX(0.9550);transform-origin:0 50%">1</span></div>
</body></html>
